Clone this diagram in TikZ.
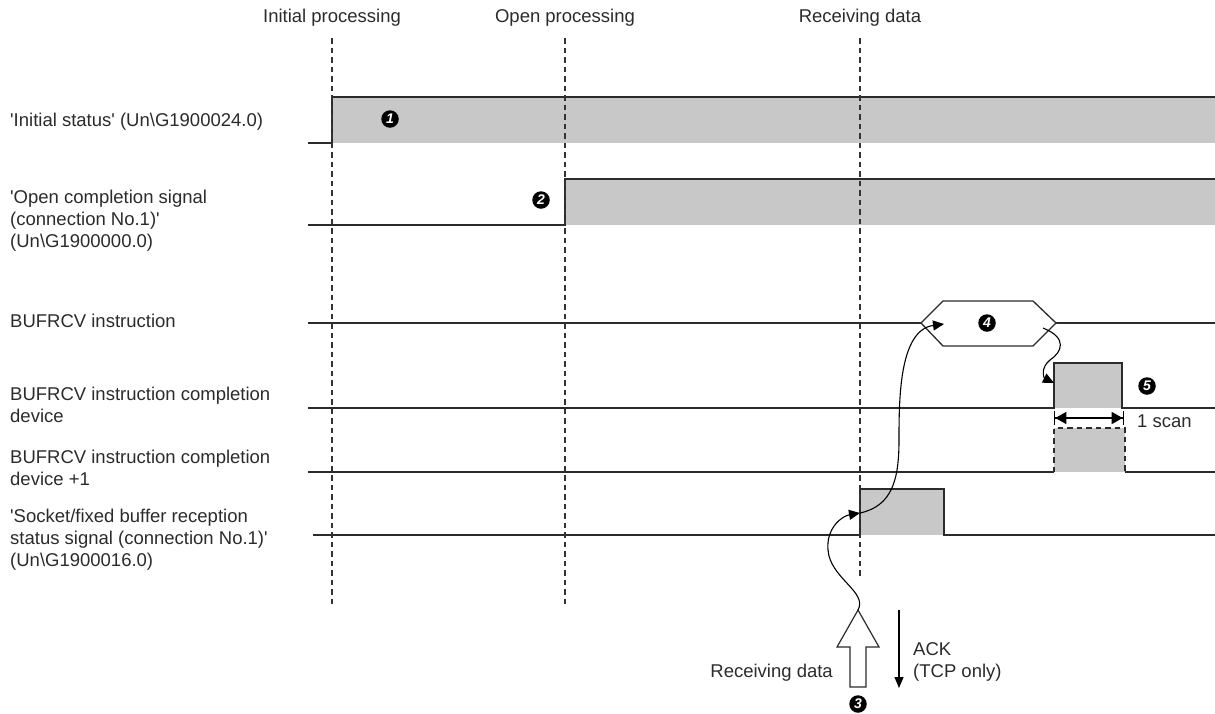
\documentclass[tikz,border=0pt]{standalone}
\usepackage{fontspec}
\setmainfont{Liberation Sans}
\newfontfamily\lblf{Liberation Sans}
\newfontfamily\mkf{Liberation Sans}
\usetikzlibrary{arrows.meta}
\definecolor{sig}{HTML}{C8C8C9}
\definecolor{ln}{HTML}{2B2B2B}
\definecolor{dl}{HTML}{333333}
\newcommand{\qq}{\textquotesingle}
\begin{document}
\begin{tikzpicture}[x=1pt,y=-1pt,
  lbl/.style={anchor=west,align=left,inner sep=0pt,text=ln,font=\lblf\fontsize{18.5}{22}\selectfont},
  hdr/.style={inner sep=0pt,text=ln,font=\lblf\fontsize{18.5}{22}\selectfont},
  sl/.style={draw=ln,line width=1.3pt},
  dsh/.style={draw=dl,line width=1.15pt,dash pattern=on 5.5pt off 4pt},
  mk/.style={circle,fill=black,text=white,inner sep=0pt,minimum size=17.5pt,font=\mkf\fontsize{14}{14}\selectfont\bfseries\itshape},
  crv/.style={draw=black,line width=1.1pt,-{Triangle[length=11pt,width=10pt]}},
  pf/.style={fill=sig}
]
\useasboundingbox (0,0) rectangle (1215,713);

% header labels and dashed lines
\node[hdr] (h1) at (332,18) {Initial processing};
\node[hdr] (h2) at (565,18) {Open processing};
\node[hdr] (h3) at (860,18) {Receiving data};
\coordinate (d1t) at (332,38); \coordinate (d1b) at (332,605);
\coordinate (d2t) at (565,38); \coordinate (d2b) at (565,605);
\coordinate (d3t) at (860,38); \coordinate (d3b) at (860,578);

% signal 1
\fill[pf] (332,97) rectangle (1215,143);
\draw[sl] (308,143) -- (332,143) -- (332,97) -- (1215,97);
\node[lbl] (l1) at (10,122) {\qq Initial status\qq\ (Un\textbackslash G1900024.0)};
\node[mk] (m1) at (390,119) {1};

% signal 2
\fill[pf] (565,179) rectangle (1215,225);
\draw[sl] (308,225) -- (565,225) -- (565,179) -- (1215,179);
\node[lbl] (l2) at (10,221) {\qq Open completion signal\\(connection No.1)\qq\\(Un\textbackslash G1900000.0)};
\node[mk] (m2) at (541,200) {2};

% signal 3: BUFRCV instruction
\coordinate (hxl) at (921,323);
\coordinate (hxr) at (1056,323);
\draw[sl] (308,323) -- (hxl);
\draw[sl] (hxr) -- (1215,323);
\draw[sl,fill=white] (hxl) -- (943,301) -- (1033,301) -- (hxr) -- (1033,346) -- (943,346) -- cycle;
\node[lbl] (l3) at (10,321) {BUFRCV instruction};
\node[mk] (m4) at (987,323) {4};

% signal 4: completion device
\fill[pf] (1054,363) rectangle (1122,408);
\draw[sl] (308,408) -- (1054,408) -- (1054,363) -- (1122,363) -- (1122,408) -- (1215,408);
\node[lbl] (l4) at (10,405) {BUFRCV instruction completion\\device};
\node[mk] (m5) at (1147,386) {5};

% 1 scan
\coordinate (s1) at (1054,418);
\coordinate (s2) at (1124,418);
\draw[line width=1.3pt,{Bar[width=14pt]Triangle[length=11pt,width=12pt]}-{Triangle[length=11pt,width=12pt]Bar[width=14pt]}] (s1) -- (s2);
\node[lbl] (sc) at (1137,421) {1 scan};

% signal 5: completion device +1
\fill[pf] (1054,428) rectangle (1125,472);
\draw[dsh,draw=ln,line width=1.2pt] (1054,472) -- (1054,428) -- (1125,428) -- (1125,472);
\draw[sl] (308,472) -- (1054,472);
\draw[sl] (1125,472) -- (1215,472);
\node[lbl] (l5) at (10,468) {BUFRCV instruction completion\\device +1};

% signal 6: socket reception status
\fill[pf] (860,489) rectangle (944,535);
\draw[sl] (313,535) -- (860,535) -- (860,489) -- (944,489) -- (944,535) -- (1215,535);
\node[lbl] (l6) at (10,540) {\qq Socket/fixed buffer reception\\status signal (connection No.1)\qq\\(Un\textbackslash G1900016.0)};

% dashed lines
\draw[dsh] (d1t) -- (d1b);
\draw[dsh] (d2t) -- (d2b);
\draw[dsh] (d3t) -- (d3b);

% big hollow arrow
\coordinate (at) at (858,610);
\draw[draw=ln,line width=1.2pt,fill=white] (850,687) -- (850,647) -- (837,647) -- (at) -- (879,647) -- (866,647) -- (866,687) -- cycle;
\node[hdr,anchor=east] (rd) at (833,673) {Receiving data};
\node[mk] (m3) at (858,704) {3};

% ACK arrow
\coordinate (ak1) at (899,610);
\coordinate (ak2) at (899,688);
\draw[line width=1.1pt,-{Triangle[length=11pt,width=9pt]}] (ak1) -- (ak2);
\node[lbl] (ack) at (913,662) {ACK\\(TCP only)};

% curves
\coordinate (re) at (860,513);
\coordinate (hxin) at (944,324);
\coordinate (hxout) at (1043,328);
\coordinate (pe) at (1054,383);
\draw[crv] (at) .. controls (868,592) and (830,578) .. (828,550) .. controls (826,528) and (842,516) .. (re);
\draw[crv] (re) .. controls (892,506) and (899,480) .. (899,440) .. controls (899,400) and (899,330) .. (hxin);
\draw[crv] (hxout) .. controls (1068,338) and (1062,352) .. (1050,360) .. controls (1040,368) and (1044,378) .. (pe);
\end{tikzpicture}
\end{document}
